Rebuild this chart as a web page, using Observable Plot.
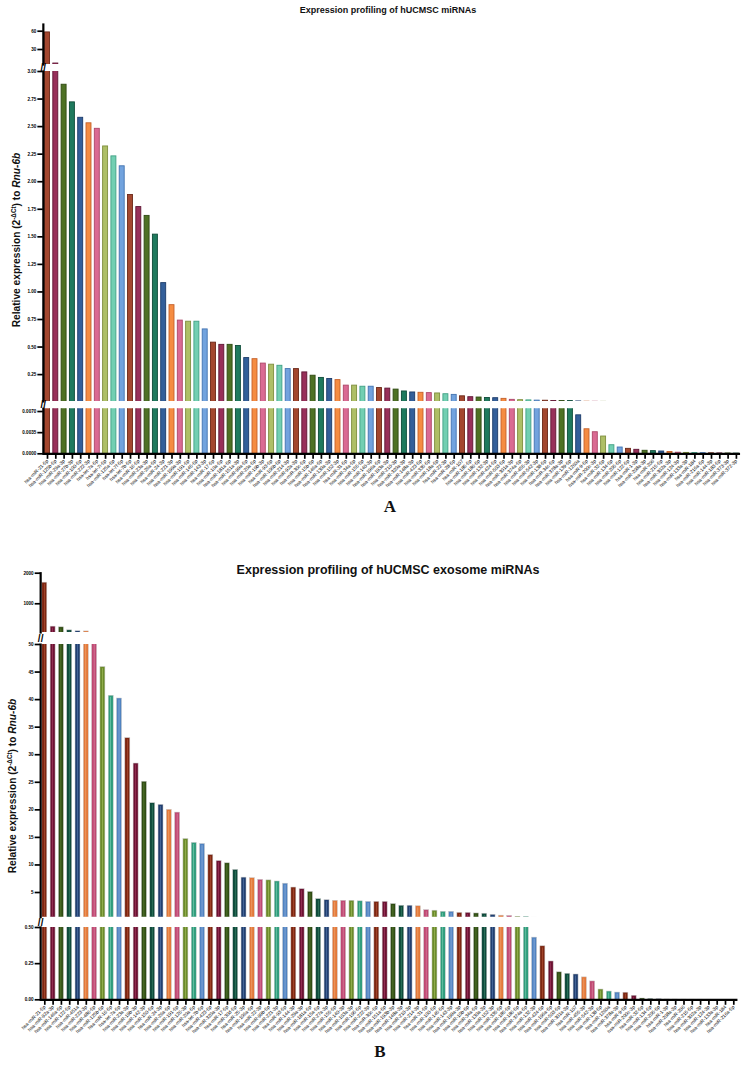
<!DOCTYPE html>
<html><head><meta charset="utf-8">
<script src="https://cdn.jsdelivr.net/npm/d3@7"></script>
<script src="https://cdn.jsdelivr.net/npm/@observablehq/plot@0.6"></script>
<style>
body{margin:0;background:#fff;font-family:"Liberation Sans",Arial,sans-serif;}
#page{position:relative;width:746px;height:1072px;overflow:hidden;background:#fff;}
#page svg{position:absolute;left:0;top:0;}
.t{position:absolute;white-space:nowrap;font-weight:bold;color:#111;transform:translate(-50%,-50%);}
.yl{transform:translate(-50%,-50%) rotate(-90deg);font-size:10.2px;}
.yl sup{font-size:0.62em;}
.letter{font-family:"Liberation Serif","Times New Roman",serif;font-size:17px;}
</style></head><body><div id="page"></div>
<script>
// ---------- DATA ----------
const namesA = [
"hsa-miR-21-5p","hsa-miR-125b-5p","hsa-miR-29a-3p","hsa-miR-27b-3p","hsa-miR-100-5p","hsa-miR-222-3p","hsa-let-7a-5p","hsa-let-7i-5p","hsa-miR-125a-5p","hsa-let-7f-5p",
"hsa-let-7b-5p","hsa-miR-16-5p","hsa-miR-23a-3p","hsa-miR-26a-5p","hsa-miR-24-3p","hsa-miR-221-3p","hsa-miR-199a-3p","hsa-miR-191-5p","hsa-miR-145-5p","hsa-miR-143-3p",
"hsa-miR-17-5p","hsa-miR-10a-5p","hsa-miR-181a-5p","hsa-miR-151a-3p","hsa-miR-99a-5p","hsa-miR-20a-5p","hsa-miR-19b-3p","hsa-miR-93-5p","hsa-miR-106b-5p","hsa-miR-214-3p",
"hsa-miR-92a-3p","hsa-miR-30c-5p","hsa-miR-15b-5p","hsa-miR-146a-5p","hsa-miR-130a-3p","hsa-miR-152-3p","hsa-miR-31-5p","hsa-miR-34a-5p","hsa-miR-155-5p","hsa-miR-140-3p",
"hsa-miR-196a-5p","hsa-miR-193a-3p","hsa-miR-210-3p","hsa-miR-320a-3p","hsa-miR-148a-3p","hsa-miR-423-5p","hsa-miR-335-5p","hsa-miR-18a-5p","hsa-miR-22-3p","hsa-miR-28-5p",
"hsa-miR-107","hsa-miR-185-5p","hsa-miR-186-5p","hsa-miR-132-3p","hsa-miR-424-5p","hsa-miR-503-5p","hsa-miR-301a-3p","hsa-miR-374a-5p","hsa-miR-455-3p","hsa-miR-542-3p",
"hsa-miR-138-5p","hsa-miR-34c-5p","hsa-miR-378a-3p","hsa-miR-139-5p","hsa-miR-1260a","hsa-miR-9-5p","hsa-miR-200c-3p","hsa-miR-32-5p","hsa-miR-134-5p","hsa-miR-205-5p",
"hsa-miR-122-5p","hsa-miR-1-3p","hsa-miR-208a-3p","hsa-miR-206","hsa-miR-215-5p","hsa-miR-302a-3p","hsa-miR-124-3p","hsa-miR-133a-3p","hsa-miR-184","hsa-miR-216a-5p",
"hsa-miR-144-3p","hsa-miR-183-5p","hsa-miR-373-3p","hsa-miR-372-3p"];
const valuesA = [
58, 7, 2.88, 2.72, 2.58, 2.53, 2.48, 2.32, 2.23, 2.14,
1.88, 1.77, 1.69, 1.52, 1.08, 0.88, 0.74, 0.73, 0.73, 0.66,
0.54, 0.52, 0.52, 0.51, 0.40, 0.39, 0.35, 0.34, 0.33, 0.30,
0.30, 0.27, 0.24, 0.22, 0.21, 0.20, 0.15, 0.15, 0.14, 0.14,
0.128, 0.123, 0.114, 0.097, 0.088, 0.085, 0.082, 0.079, 0.072, 0.066,
0.053, 0.045, 0.042, 0.038, 0.036, 0.030, 0.021, 0.018, 0.016, 0.014,
0.013, 0.011, 0.011, 0.010, 0.00637, 0.00406, 0.00357, 0.00286, 0.00142, 0.00104,
0.00082, 0.00066, 0.0005, 0.00044, 0.00038, 0.0003, 0.00018, 0.00015, 0.00012, 0.0001,
0.00008, 0.00006, 0.00005, 0.00003];

const namesB = [
"hsa-miR-21-5p","hsa-miR-92a-3p","hsa-miR-146a-5p","hsa-miR-122-5p","hsa-miR-451a","hsa-miR-223-3p","hsa-miR-486-5p","hsa-miR-125b-5p","hsa-miR-16-5p","hsa-let-7a-5p",
"hsa-miR-23a-3p","hsa-miR-19b-3p","hsa-miR-142-3p","hsa-miR-150-5p","hsa-miR-24-3p","hsa-miR-26a-5p","hsa-miR-191-5p","hsa-miR-126-3p","hsa-miR-20a-5p","hsa-let-7b-5p",
"hsa-miR-423-5p","hsa-miR-320a-3p","hsa-miR-17-5p","hsa-miR-30d-5p","hsa-miR-25-3p","hsa-miR-106a-5p","hsa-miR-22-3p","hsa-miR-99b-5p","hsa-miR-221-3p","hsa-miR-93-5p",
"hsa-miR-144-3p","hsa-miR-29a-3p","hsa-miR-181a-5p","hsa-miR-15a-5p","hsa-miR-27a-3p","hsa-miR-155-5p","hsa-miR-140-3p","hsa-miR-103a-3p","hsa-miR-195-5p","hsa-miR-222-3p",
"hsa-miR-30c-5p","hsa-miR-151a-5p","hsa-miR-193b-3p","hsa-miR-148a-3p","hsa-miR-210-3p","hsa-miR-214-3p","hsa-miR-31-5p","hsa-miR-100-5p","hsa-miR-145-5p","hsa-miR-143-3p",
"hsa-miR-199a-3p","hsa-miR-10b-5p","hsa-miR-34a-5p","hsa-miR-130a-3p","hsa-miR-152-3p","hsa-miR-335-5p","hsa-miR-185-5p","hsa-miR-186-5p","hsa-miR-374a-5p","hsa-miR-132-3p",
"hsa-miR-424-5p","hsa-miR-196a-5p","hsa-miR-503-5p","hsa-miR-301a-3p","hsa-miR-107","hsa-miR-455-3p","hsa-miR-542-3p","hsa-miR-138-5p","hsa-miR-1260a","hsa-miR-378a-3p",
"hsa-miR-9-5p","hsa-miR-200c-3p","hsa-miR-32-5p","hsa-miR-134-5p","hsa-miR-205-5p","hsa-miR-1-3p","hsa-miR-208a-3p","hsa-miR-206","hsa-miR-215-5p","hsa-miR-302a-3p",
"hsa-miR-124-3p","hsa-miR-133a-3p","hsa-miR-184","hsa-miR-216a-5p"];
const valuesB = [
1690, 252, 229, 130, 100, 95, 52, 45.9, 40.7, 40.2,
33.0, 28.4, 25.1, 21.2, 20.9, 20.0, 19.5, 14.7, 14.0, 13.8,
11.8, 10.7, 10.3, 9.1, 7.7, 7.6, 7.3, 7.2, 7.0, 6.6,
5.9, 5.6, 5.1, 3.8, 3.6, 3.5, 3.5, 3.5, 3.4, 3.3,
3.3, 3.3, 2.9, 2.6, 2.6, 2.5, 1.8, 1.7, 1.5, 1.5,
1.3, 1.3, 1.2, 1.15, 0.95, 0.8, 0.75, 0.6, 0.58, 0.43,
0.37, 0.265, 0.19, 0.18, 0.175, 0.155, 0.127, 0.071, 0.057, 0.05,
0.049, 0.028, 0.009, 0.006, 0.004, 0.002, 0.0015, 0.001, 0.0008, 0.0006,
0.0005, 0.0004, 0.0003, 0.0002];

const ticksA_top = [30, 60];
const ticksA_mid = [0.25, 0.5, 0.75, 1, 1.25, 1.5, 1.75, 2, 2.25, 2.5, 2.75, 3];
const ticksA_low = [0, 0.0035, 0.007];
const ticksB_top = [1000, 2000];
const ticksB_mid = [5, 10, 15, 20, 25, 30, 35, 40, 45, 50];
const ticksB_low = [0, 0.25, 0.5];

// ---------- STYLE ----------
const fillA   = ["#a3472f","#98305a","#4e7124","#1f7a5e","#335f9a","#f58c42","#da6a93","#aebf66","#72cfb2","#72a3de"];
const strokeA = ["#6b2818","#5f1634","#2f4a12","#0f4b38","#1c3b69","#c4602a","#ad4668","#7f8e3e","#40a084","#4273b0"];
const fillB   = ["#7d2611","#6c1232","#2f4c13","#0f4a3b","#213f70","#e2783a","#be4872","#6b8b2a","#309c7c","#5082c0"];
const innerB  = ["#b8583c","#ad4168","#6f9642","#3f8c6e","#5d80b4","#f7b27c","#e48eab","#abc466","#84d6ba","#a4c3ea"];
const AXIS = "#000";

const W = 746, H = 1072;
const root = document.getElementById("page");
const FONT = '"Liberation Sans", Arial, sans-serif';

function seg(cfg) {
  const data = cfg.names.map((name, i) => ({name, value: cfg.values[i], i}));
  const marks = [
    Plot.barY(data, {x: "name", y: "value", fill: d => cfg.fill[d.i % 10],
      stroke: cfg.stroke ? (d => cfg.stroke[d.i % 10]) : "#c8c8c8", strokeWidth: cfg.stroke ? 0.9 : 0.5, clip: true})
  ];
  if (cfg.inner) marks.push(Plot.barY(data, {x: "name", y: "value", fill: d => cfg.inner[d.i % 10],
      insetLeft: 2.2, insetRight: 2.2, insetTop: 1.6, clip: true}));
  marks.push(Plot.axisY({ticks: cfg.ticks, tickFormat: cfg.fmt, tickSize: 5.5, tickPadding: 1.5,
      fontSize: 4.6, fontWeight: "bold", stroke: AXIS, strokeWidth: 1.7, strokeOpacity: 1, label: null}));
  marks.push(Plot.frame({anchor: "left", strokeWidth: 2.2, stroke: AXIS, strokeOpacity: 1}));
  if (cfg.xaxis) {
    marks.push(Plot.ruleY([0], {strokeWidth: 2.2, stroke: AXIS, strokeOpacity: 1}));
    marks.push(Plot.axisX({tickRotate: -45, tickSize: 5.5, tickPadding: 1, fontSize: 4.8,
      stroke: AXIS, strokeWidth: 1.7, strokeOpacity: 1, label: null}));
  }
  if (cfg.breakDy !== undefined) {
    marks.push(Plot.text(["//"], {frameAnchor: "top-left", dy: cfg.breakDy, text: d => d,
      fontSize: 10, fontWeight: "bold", textAnchor: "middle", lineAnchor: "middle"}));
  }
  const svg = Plot.plot({
    width: W, height: H,
    marginTop: cfg.top, marginBottom: H - cfg.bottom,
    marginLeft: cfg.xr[0], marginRight: W - cfg.xr[1],
    style: {background: "transparent", overflow: "visible", fontFamily: FONT, color: "#000"},
    x: {type: "band", domain: cfg.names, paddingInner: 0.4, paddingOuter: 0.2, round: false, axis: null},
    y: {domain: cfg.domain, axis: null},
    marks
  });
  root.appendChild(svg);
}

// Panel A
const xrA = [42.85, 740.05];
seg({names: namesA, values: valuesA, fill: fillA, stroke: strokeA, xr: xrA,
     top: 24, bottom: 64, domain: [5.4, 71], ticks: ticksA_top, fmt: d3.format("d")});
seg({names: namesA, values: valuesA, fill: fillA, stroke: strokeA, xr: xrA,
     top: 71, bottom: 401, domain: [0.006, 3], ticks: ticksA_mid, fmt: d3.format(".2f"), breakDy: -3.5});
seg({names: namesA, values: valuesA, fill: fillA, stroke: strokeA, xr: xrA,
     top: 408.3, bottom: 453.3, domain: [0, 0.00745], ticks: ticksA_low, fmt: d3.format(".4f"),
     xaxis: true, breakDy: -3.6});

// Panel B
const xrB = [40.15, 737.45];
seg({names: namesB, values: valuesB, fill: fillB, inner: innerB, xr: xrB,
     top: 572.7, bottom: 632, domain: [60, 2000], ticks: ticksB_top, fmt: d3.format("d")});
seg({names: namesB, values: valuesB, fill: fillB, inner: innerB, xr: xrB,
     top: 644, bottom: 916.7, domain: [0.52, 50], ticks: ticksB_mid, fmt: d3.format("d"), breakDy: -6});
seg({names: namesB, values: valuesB, fill: fillB, inner: innerB, xr: xrB,
     top: 927, bottom: 999.3, domain: [0, 0.5], ticks: ticksB_low, fmt: d3.format(".2f"),
     xaxis: true, breakDy: -5});

// Texts
function txt(html, x, y, cls, size) {
  const d = document.createElement("div");
  d.className = "t " + (cls || "");
  d.style.left = x + "px"; d.style.top = y + "px";
  if (size) d.style.fontSize = size + "px";
  d.innerHTML = html;
  root.appendChild(d);
}
txt("Expression profiling of hUCMSC miRNAs", 388, 10, "", 9);
txt("Expression profiling of hUCMSC exosome miRNAs", 388, 570, "", 12.5);
const ylab = 'Relative expression (2<sup>-ΔCt</sup>) to <i>Rnu-6b</i>';
txt(ylab, 15.5, 240, "yl");
txt(ylab, 11.5, 786, "yl");
txt("A", 390, 507, "letter");
txt("B", 380, 1052, "letter");
</script>
</body></html>
